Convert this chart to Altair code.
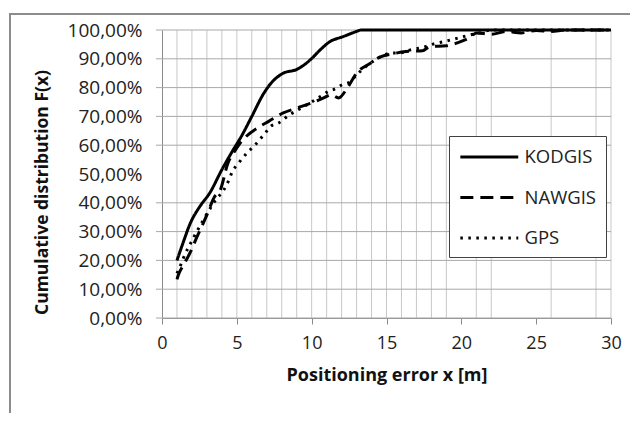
import altair as alt
import pandas as pd

# ---- data ----
series_names = ["KODGIS", "NAWGIS", "GPS"]

kod_x = [1.0, 1.4, 1.9, 2.5, 3.2, 4.0, 4.6, 5.4, 6.0, 6.8, 7.2, 8.1, 9.0, 9.9, 10.55, 11.2, 12.1, 13.0, 13.3, 30.0]
kod_y = [20, 26, 33, 38.5, 43.5, 51.5, 57, 64, 70, 78, 81, 85, 86.3, 89.6, 93, 95.9, 97.7, 99.5, 100, 100]

naw_x = [1.0, 1.1, 1.5, 2.0, 2.2, 2.65, 3.0, 3.5, 3.9, 4.4, 4.8, 5.2, 5.5, 6.5, 7.1, 8.1, 9.0, 9.9, 10.8,
         11.3, 11.8, 12.4, 13.0, 13.9, 14.6, 15.3, 16.3, 17.4, 17.9, 19.0, 19.7, 20.6, 21.0, 22.0, 23.0,
         24.0, 25.0, 26.0, 27.0, 30.0]
naw_y = [13.4, 15, 19, 24, 26.5, 31.7, 35.8, 42, 44.5, 53.7, 57.5, 60.6, 62.4, 66.4, 68.2, 71.2, 72.9, 74.5, 76.4,
         77.5, 76.4, 80, 85, 88.4, 90.7, 91.6, 92.5, 92.8, 94.2, 94.5, 95.5, 97.5, 99, 98.5, 99.5,
         99, 99.8, 99.5, 100, 100]

gps_x = [1.0, 1.2, 1.42, 2.09, 2.76, 3.43, 4.32, 4.76, 5.1, 5.66, 6.2, 6.88, 7.3, 7.75, 8.5, 9.2, 9.67, 10.55,
         11.1, 11.67, 12.0, 12.56, 13.0, 13.9, 14.6, 15.2, 16.0, 16.6, 17.46, 18.1, 18.8, 19.7, 20.6, 21.2,
         22.0, 30.0]
gps_y = [15.5, 17.8, 20.7, 27.7, 34, 39.8, 46.2, 51.4, 53.7, 57.2, 60, 64.1, 66.7, 67.6, 70.5, 72.6, 74, 76.8,
         78.6, 79.8, 80.9, 82, 84.4, 88.4, 90.7, 91.9, 92.1, 93.1, 94, 95.1, 95.9, 97.1, 98.3, 99,
         100, 100]

x_tick_values = [0, 5, 10, 15, 20, 25, 30]
y_label_values = [0, 0.1, 0.2, 0.3, 0.4, 0.5, 0.6, 0.7, 0.8, 0.9, 1.0]
y_grid_values = [0, 0.1, 0.2, 0.3, 0.4, 0.6, 0.7, 0.8, 0.9, 1.0]
x_grid_values = [1, 2, 3, 4, 5, 6, 7, 8, 9, 10, 11, 12, 13, 14, 15, 16, 17, 18, 19, 21, 22, 26, 29, 30]

rows = []
for name, xs, ys in [("KODGIS", kod_x, kod_y), ("NAWGIS", naw_x, naw_y), ("GPS", gps_x, gps_y)]:
    for i, (xv, yv) in enumerate(zip(xs, ys)):
        rows.append({"series": name, "x": xv, "y": yv / 100.0, "order": i})
df = pd.DataFrame(rows)

W, H = 449, 288
FONT = "Open Sans"
XTITLE = "Positioning error x [m]"
YTITLE = "Cumulative distribution F(x)"
xscale = alt.Scale(domain=[0, 30], nice=False, zero=False)
yscale = alt.Scale(domain=[0, 1], nice=False)

x_axis = alt.Axis(values=x_tick_values, format="d", grid=False, tickSize=6, labelFlush=False,
                  labelOverlap=False,
                  tickColor="#8a8a8a", domainColor="#8a8a8a",
                  labelFont=FONT, labelFontSize=18, labelColor="#222222", labelPadding=10,
                  titleFont=FONT, titleFontSize=18, titleFontWeight="bold",
                  titleColor="#111111", titlePadding=14)
y_axis = alt.Axis(values=y_label_values, grid=False, ticks=False, labelFlush=False,
                  labelOverlap=False,
                  labelExpr="replace(format(datum.value, '.2%'), '.', ',')",
                  domainColor="#8a8a8a",
                  labelFont=FONT, labelFontSize=19, labelColor="#222222", labelPadding=20,
                  titleFont=FONT, titleFontSize=17.5, titleFontWeight="bold",
                  titleColor="#111111", titleX=-111, titleY=162)

# horizontal grid lines (with their small outer tick)
hgrid = alt.Chart(pd.DataFrame({"v": y_grid_values})).mark_rule(
    color="#a8a8a8", strokeWidth=1
).encode(
    y=alt.Y("v:Q", scale=yscale, axis=y_axis, title=YTITLE),
    x=alt.value(-6), x2=alt.value(W),
)

# vertical grid lines
vgrid = alt.Chart(pd.DataFrame({"v": x_grid_values})).mark_rule(
    color="#c8c8c8", strokeWidth=1
).encode(
    x=alt.X("v:Q", scale=xscale, axis=x_axis, title=XTITLE),
    y=alt.value(0), y2=alt.value(H),
)

SYM = 19.3  # sqrt of symbol size; the stroke path spans 3x this length
lines = alt.Chart(df).mark_line(
    color="black", strokeWidth=3, interpolate="monotone"
).encode(
    x=alt.X("x:Q", scale=xscale, axis=x_axis, title=XTITLE),
    y=alt.Y("y:Q", scale=yscale, axis=y_axis, title=YTITLE),
    strokeDash=alt.StrokeDash(
        "series:N",
        scale=alt.Scale(domain=series_names, range=[[1, 0], [13, 7], [2.5, 5.5]]),
        legend=alt.Legend(title=None, orient="none", legendX=287, legendY=106,
                          symbolType="M-1,0H5", symbolStrokeWidth=3, symbolSize=SYM * SYM,
                          symbolStrokeColor="black", symbolFillColor="transparent",
                          labelFont=FONT, labelFontSize=18.5, labelColor="#222222", labelOffset=43,
                          strokeColor="#404040", fillColor="white", padding=9.5, rowPadding=19.5),
    ),
    order="order:Q",
)

# chart-area border (top and left edges; the rest falls outside the window)
frame_top = alt.Chart(alt.Data(values=[{"a": 1}])).mark_rect(
    color="#8c8c8c"
).encode(
    x=alt.value(-153), x2=alt.value(W + 40),
    y=alt.value(-17), y2=alt.value(-15),
)
frame_left = alt.Chart(alt.Data(values=[{"a": 1}])).mark_rule(
    color="#8c8c8c", strokeWidth=2
).encode(
    x=alt.value(-152), y=alt.value(-17), y2=alt.value(H + 101),
)

chart = alt.layer(frame_top, frame_left, vgrid, hgrid, lines).properties(
    width=W, height=H,
    padding={"left": 154, "top": 22, "right": 19, "bottom": 95},
    autosize=alt.AutoSizeParams(type="none"),
).configure_view(stroke=None)

chart.save("out.html", embed_options={"renderer": "svg", "actions": False})
